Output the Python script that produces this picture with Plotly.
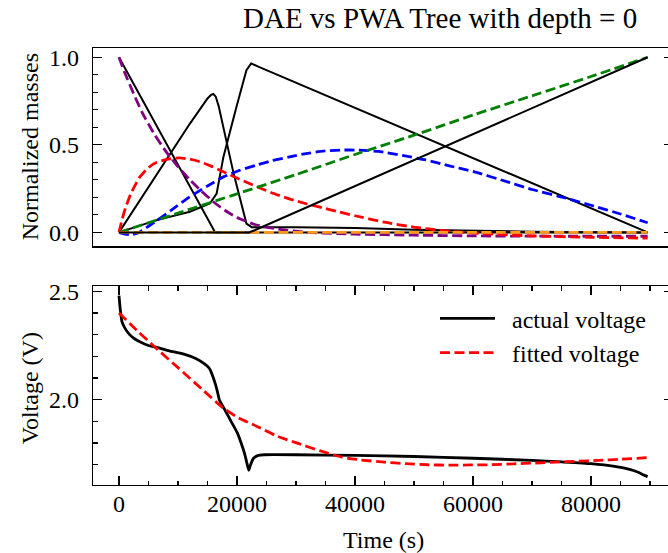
import plotly.graph_objects as go

# ---------------- data ----------------
# Top panel: DAE "actual" normalized masses (black solid)
t_a = [0, 5000, 10000, 15000, 15800, 16300, 89600]
m_a = [1.0, 0.693, 0.387, 0.08, 0.025, 0.0, 0.0]

t_b = [0, 6400, 12000, 15000, 15600, 16000, 16400, 16900, 19400, 21600, 22500, 30000, 40000,
       50000, 60000, 70000, 89600]
m_b = [0, 0.33, 0.62, 0.765, 0.785, 0.79, 0.775, 0.72, 0.34, 0.05, 0.03, 0.03, 0.025,
       0.015, 0.008, 0.004, 0.0]

t_c = [0, 6400, 12000, 15400, 16550, 17700, 19900, 21600, 22400, 23500, 89600]
m_c = [0, 0.07, 0.118, 0.165, 0.222, 0.431, 0.716, 0.926, 0.965, 0.948, 0.0]

t_d = [0, 22000, 23000, 89600]
m_d = [0, 0, 0.012, 1.0]

# Top panel: PWA tree fitted masses (dashed)
t_purple = [0, 1000, 2500, 4000, 6000, 8000, 10000, 12000, 14000, 16000, 18000, 20000,
            23000, 27000, 32000, 40000, 50000, 60000, 75000, 89600]
m_purple = [1.0, 0.91, 0.79, 0.68, 0.56, 0.46, 0.375, 0.30, 0.235, 0.175, 0.125, 0.085,
            0.045, 0.018, 0.0, -0.01, -0.016, -0.02, -0.022, -0.022]

t_red = [0, 500, 1100, 2000, 3400, 5000, 6400, 8500, 10300, 12000, 13700, 15500, 17700,
         20000, 22200, 24500, 26800, 29000, 31900, 34500, 36900, 40000, 45000, 50000,
         55000, 60000, 70000, 80000, 89600]
m_red = [0, 0.07, 0.14, 0.22, 0.31, 0.37, 0.40, 0.42, 0.425, 0.418, 0.403, 0.38, 0.346,
         0.31, 0.278, 0.245, 0.215, 0.19, 0.162, 0.14, 0.12, 0.095, 0.058, 0.03,
         0.01, -0.004, -0.02, -0.028, -0.033]

t_blue = [0, 1000, 2000, 3400, 5000, 6400, 9000, 12000, 15000, 17700, 20500, 23300, 26000,
          28900, 31700, 34500, 37500, 40500, 44000, 48000, 52000, 56000, 60000, 65700,
          70000, 75900, 80000, 85000, 89600]
m_blue = [0, -0.01, -0.014, 0.0, 0.035, 0.067, 0.13, 0.203, 0.265, 0.317, 0.355, 0.384, 0.41,
          0.431, 0.45, 0.464, 0.47, 0.47, 0.462, 0.44, 0.414, 0.38, 0.348, 0.29,
          0.245, 0.194, 0.155, 0.105, 0.055]

t_green = [0, 10000, 20000, 30000, 40000, 50000, 60000, 70000, 80000, 89600]
m_green = [0, 0.11, 0.22, 0.33, 0.445, 0.555, 0.67, 0.78, 0.89, 1.0]

t_orange = [0, 20000, 40000, 60000, 80000, 89600]
m_orange = [0, 0, 0, 0, 0, 0]

# Bottom panel: voltage
t_volt = [0, 200, 500, 1000, 1800, 2700, 3700, 5000, 6600, 8500, 11000, 13000, 14500, 15300,
          15800, 16300, 16700, 17000, 18000, 19000, 20000, 20700, 21300, 21700, 22000, 22300,
          22800, 23500, 24600, 30000, 40000, 50000, 60000, 70000, 75000, 80000, 84000,
          86700, 88000, 89000, 89600]
v_actual = [2.48, 2.42, 2.36, 2.33, 2.30, 2.28, 2.265, 2.25, 2.24, 2.225, 2.21, 2.19, 2.165, 2.145,
            2.115, 2.075, 2.035, 2.0, 1.95, 1.90, 1.85, 1.80, 1.75, 1.705, 1.674, 1.70,
            1.73, 1.742, 1.746, 1.746, 1.743, 1.738, 1.73, 1.72, 1.713, 1.705, 1.692,
            1.677, 1.665, 1.652, 1.645]

t_fit = [0, 3000, 6200, 10000, 14000, 17500, 20000, 23300, 26500, 30500, 34000, 37800, 41000,
         45000, 48500, 52300, 56000, 59600, 63000, 66900, 70500, 74100, 77500, 81300, 85000, 89600]
v_fit = [2.40, 2.32, 2.24, 2.148, 2.05, 1.965, 1.92, 1.878, 1.835, 1.797, 1.765, 1.735, 1.722,
         1.712, 1.705, 1.70, 1.698, 1.699, 1.70, 1.704, 1.708, 1.712, 1.716, 1.72, 1.725, 1.733]

title_text = "DAE vs PWA Tree with depth = 0"
legend_names = ["actual voltage", "fitted voltage"]

# ---------------- figure ----------------
FONT = "Liberation Serif, Times New Roman, serif"
W, H = 668, 553
L, R, T, B = 93, 0, 47.7, 68.3
PW = W - L - R
PH = H - T - B

def py(px):  # pixel y -> paper y
    return (H - B - px) / PH

def pxf(px):  # pixel x -> paper x
    return (px - L) / PW

DASH = "10px,4.5px"
fig = go.Figure()

def black(t, m):
    fig.add_trace(go.Scatter(x=t, y=m, mode="lines", xaxis="x2", yaxis="y2",
                             line=dict(color="black", width=2), showlegend=False,
                             hoverinfo="skip"))

def fitted(t, m, c):
    fig.add_trace(go.Scatter(x=t, y=m, mode="lines", xaxis="x2", yaxis="y2",
                             line=dict(color=c, width=2.8, dash=DASH, shape="spline", smoothing=0.5),
                             showlegend=False, hoverinfo="skip"))

black(t_a, m_a)
black(t_b, m_b)
black(t_c, m_c)
fitted(t_purple, m_purple, "purple")
fitted(t_red, m_red, "red")
fitted(t_blue, m_blue, "blue")
fitted(t_green, m_green, "green")
fitted(t_orange, m_orange, "#ff9a1a")
black(t_d, m_d)

NB = "\u00a0\u00a0"
fig.add_trace(go.Scatter(x=t_volt, y=v_actual, mode="lines", name=NB + legend_names[0],
                         line=dict(color="black", width=2.8, shape="spline", smoothing=0.4),
                         xaxis="x", yaxis="y", hoverinfo="skip"))
fig.add_trace(go.Scatter(x=t_fit, y=v_fit, mode="lines", name=NB + legend_names[1],
                         line=dict(color="red", width=2.8, dash=DASH, shape="spline", smoothing=0.5),
                         xaxis="x", yaxis="y", hoverinfo="skip"))

xr = [(L - 119) / 472 * 80000, (W - R - 119) / 472 * 80000]
tickfont = dict(family=FONT, size=24, color="black")
common = dict(showgrid=False, zeroline=False, linecolor="black", linewidth=1.3,
              tickcolor="black", tickwidth=1.2, tickfont=tickfont)

top_dom = [py(246), 1]
bot_dom = [0, py(285.7)]
yr_top = [-0.0795, 1.053]
yr_bot = [1.6065, 2.5244]

fig.update_layout(
    width=W, height=H,
    margin=dict(l=L, r=R, t=T, b=B, pad=0),
    paper_bgcolor="white", plot_bgcolor="white",
    font=dict(family=FONT, size=24, color="black"),
    hovermode=False,
    xaxis=dict(domain=[0, 1], anchor="y", range=xr, showline=True, mirror="ticks",
               ticks="inside", ticklen=9, tick0=0, dtick=20000, tickformat="d",
               minor=dict(ticks="inside", ticklen=4.5, dtick=5000, tick0=0,
                          tickcolor="black", tickwidth=1.2),
               ticklabelstandoff=-3, **common),
    yaxis=dict(domain=bot_dom, anchor="x", range=yr_bot, showline=True,
               ticks="inside", ticklen=9, tick0=0, dtick=0.5, tickformat=".1f",
               minor=dict(ticks="inside", ticklen=4.5, dtick=0.1, tick0=0,
                          tickcolor="black", tickwidth=1.2),
               ticklabelstandoff=8, **common),
    yaxis3=dict(overlaying="y", side="right", anchor="x", range=yr_bot, showline=False,
                ticks="inside", ticklen=4, tick0=0, dtick=0.5, showticklabels=False, **common),
    xaxis2=dict(domain=[0, 1], anchor="y2", range=xr, showline=True, mirror=True,
                ticks="", showticklabels=False, matches="x", **common),
    yaxis2=dict(domain=top_dom, anchor="x2", range=yr_top, showline=True,
                ticks="inside", ticklen=9, tick0=0, dtick=0.5, tickformat=".1f",
                minor=dict(ticks="inside", ticklen=4.5, dtick=0.1, tick0=0,
                           tickcolor="black", tickwidth=1.2),
                ticklabelstandoff=8, **common),
    yaxis4=dict(overlaying="y2", side="right", anchor="x2", range=yr_top, showline=False,
                ticks="inside", ticklen=4, tick0=0, dtick=0.5, showticklabels=False, **common),
    legend=dict(x=pxf(435), y=py(296), xanchor="left", yanchor="top",
                bgcolor="rgba(0,0,0,0)", borderwidth=0,
                font=dict(family=FONT, size=24, color="black"),
                itemwidth=55, tracegroupgap=0),
    showlegend=True,
)

# invisible traces to activate the right-side tick axes
fig.add_trace(go.Scatter(x=[None], y=[None], xaxis="x", yaxis="y3", showlegend=False))
fig.add_trace(go.Scatter(x=[None], y=[None], xaxis="x2", yaxis="y4", showlegend=False))

ann = dict(xref="paper", yref="paper", showarrow=False)
fig.add_annotation(text=title_text, x=pxf(440), y=py(18), xanchor="center", yanchor="middle",
                   font=dict(family=FONT, size=29, color="black"), **ann)
fig.add_annotation(text="Normalized masses", x=pxf(30), y=py(147), textangle=-90,
                   xanchor="center", yanchor="middle",
                   font=dict(family=FONT, size=24, color="black"), **ann)
fig.add_annotation(text="Voltage (V)", x=pxf(30), y=py(388), textangle=-90,
                   xanchor="center", yanchor="middle",
                   font=dict(family=FONT, size=24, color="black"), **ann)
fig.add_annotation(text="Time (s)", x=pxf(383), y=py(540), xanchor="center", yanchor="middle",
                   font=dict(family=FONT, size=24, color="black"), **ann)

fig.write_html("out.html", config={"displayModeBar": False, "staticPlot": True},
               post_script="document.body.style.margin='0';document.body.style.overflow='hidden';")
